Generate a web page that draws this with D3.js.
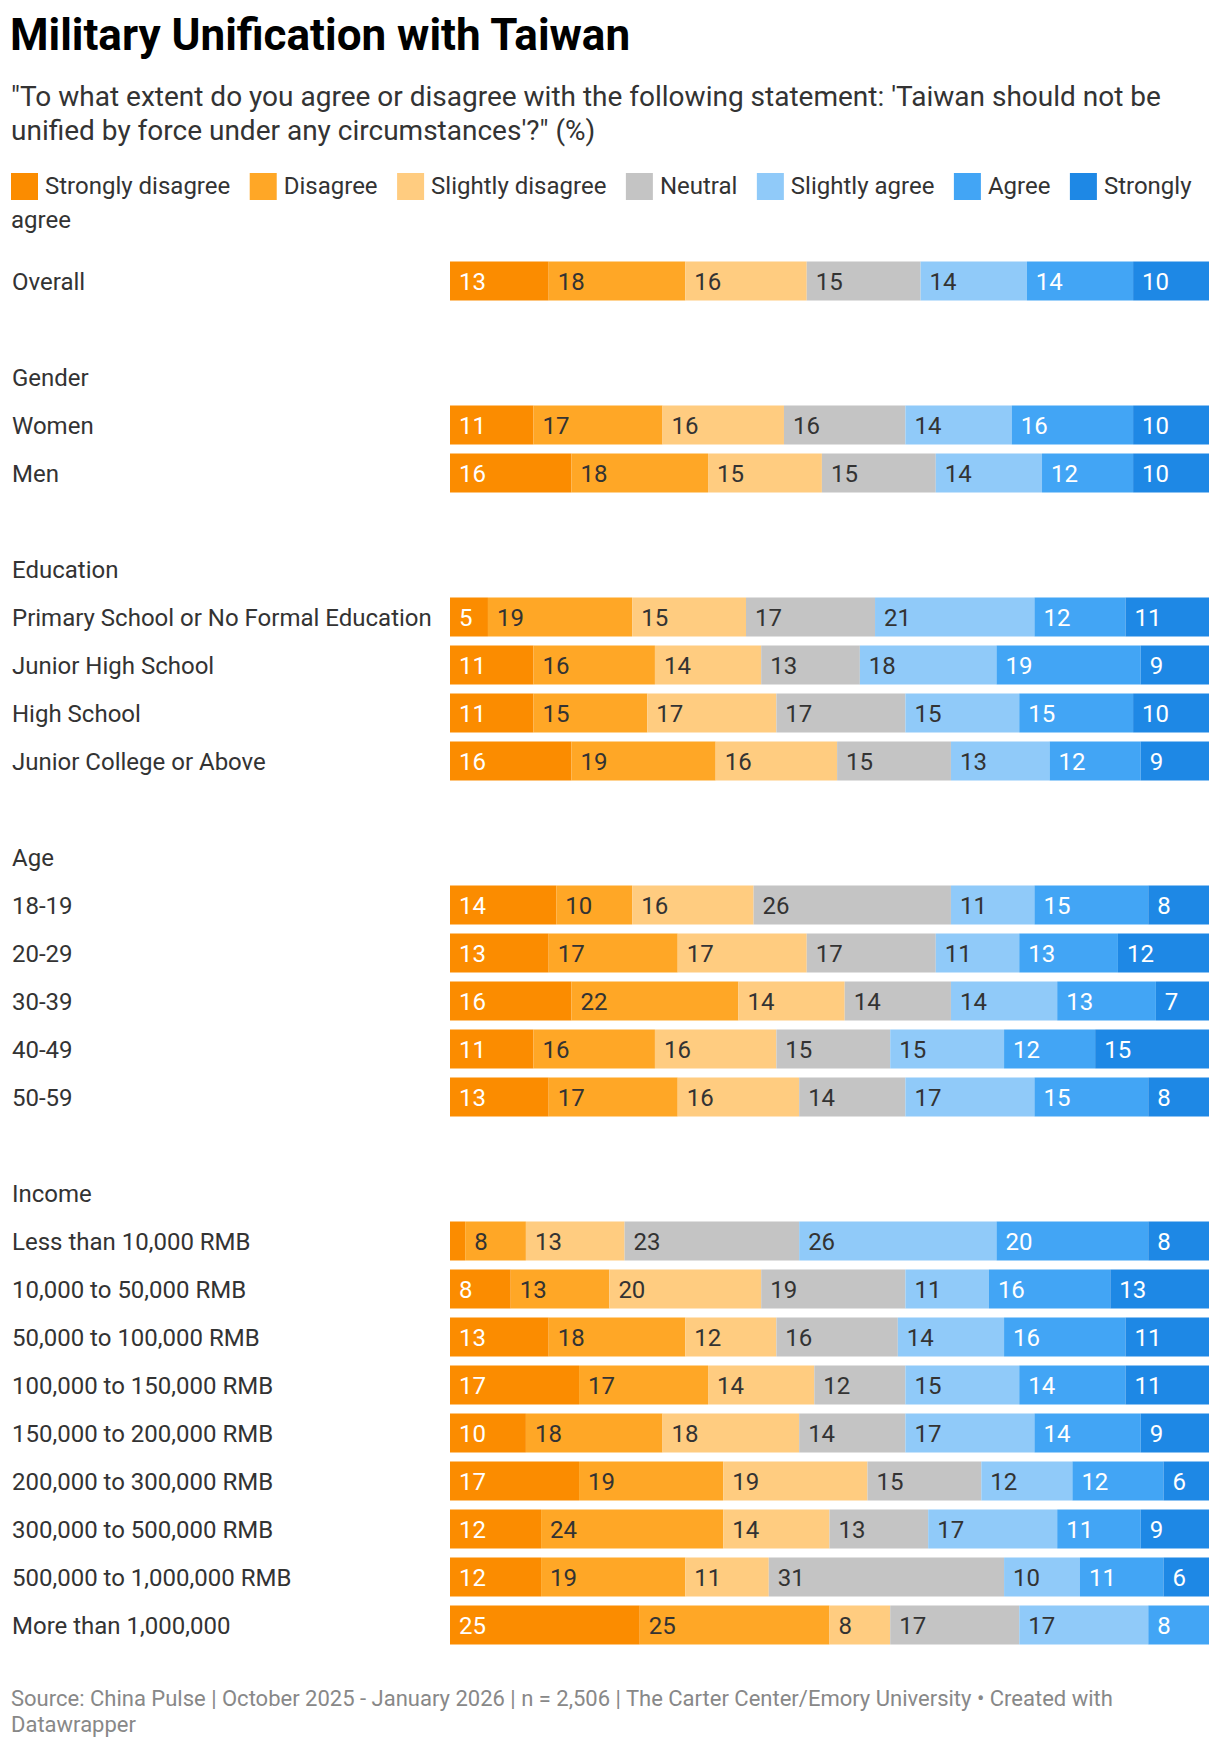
<!DOCTYPE html>
<html>
<head>
<meta charset="utf-8">
<script src="https://cdn.jsdelivr.net/npm/d3@7"></script>
<style>
  html, body { margin: 0; padding: 0; background: #fff; }
  svg text { font-family: Roboto, "Noto Sans", sans-serif; }
</style>
</head>
<body>
<svg id="chart" width="1220" height="1750"></svg>
<script>
// ---------- DATA ----------
const seriesNames = ["Strongly disagree", "Disagree", "Slightly disagree", "Neutral", "Slightly agree", "Agree", "Strongly agree"];
const seriesColors = ["#fb8c00", "#ffa726", "#ffcc80", "#c4c4c4", "#90caf9", "#42a5f5", "#1e88e5"];
const labelColors = ["#ffffff", "#333333", "#333333", "#333333", "#333333", "#ffffff", "#ffffff"];

const categories = [
  "Overall",
  "Women", "Men",
  "Primary School or No Formal Education", "Junior High School", "High School", "Junior College or Above",
  "18-19", "20-29", "30-39", "40-49", "50-59",
  "Less than 10,000 RMB", "10,000 to 50,000 RMB", "50,000 to 100,000 RMB", "100,000 to 150,000 RMB",
  "150,000 to 200,000 RMB", "200,000 to 300,000 RMB", "300,000 to 500,000 RMB", "500,000 to 1,000,000 RMB",
  "More than 1,000,000"
];
const categoryGroup = [
  "",
  "Gender", "Gender",
  "Education", "Education", "Education", "Education",
  "Age", "Age", "Age", "Age", "Age",
  "Income", "Income", "Income", "Income", "Income", "Income", "Income", "Income", "Income"
];
const stronglyDisagree = [13, 11, 16, 5, 11, 11, 16, 14, 13, 16, 11, 13, 2, 8, 13, 17, 10, 17, 12, 12, 25];
const disagree         = [18, 17, 18, 19, 16, 15, 19, 10, 17, 22, 16, 17, 8, 13, 18, 17, 18, 19, 24, 19, 25];
const slightlyDisagree = [16, 16, 15, 15, 14, 17, 16, 16, 17, 14, 16, 16, 13, 20, 12, 14, 18, 19, 14, 11, 8];
const neutral          = [15, 16, 15, 17, 13, 17, 15, 26, 17, 14, 15, 14, 23, 19, 16, 12, 14, 15, 13, 31, 17];
const slightlyAgree    = [14, 14, 14, 21, 18, 15, 13, 11, 11, 14, 15, 17, 26, 11, 14, 15, 17, 12, 17, 10, 17];
const agree            = [14, 16, 12, 12, 19, 15, 12, 15, 13, 13, 12, 15, 20, 16, 16, 14, 14, 12, 11, 11, 8];
const stronglyAgree    = [10, 10, 10, 11, 9, 10, 9, 8, 12, 7, 15, 8, 8, 13, 11, 11, 9, 6, 9, 6, 0];

const titleText = "Military Unification with Taiwan";
const subtitleLines = [
  "\"To what extent do you agree or disagree with the following statement: 'Taiwan should not be",
  "unified by force under any circumstances'?\" (%)"
];
const footerLines = [
  "Source: China Pulse | October 2025 - January 2026 | n = 2,506 | The Carter Center/Emory University \u2022 Created with",
  "Datawrapper"
];

// ---------- BUILD ----------
const seriesValues = [stronglyDisagree, disagree, slightlyDisagree, neutral, slightlyAgree, agree, stronglyAgree];

// rows: header rows, blank spacer rows and category rows
const rows = [];
let prevGroup = null;
categories.forEach((c, i) => {
  const g = categoryGroup[i];
  if (g !== prevGroup) {
    if (prevGroup !== null) rows.push({ id: "gap" + rows.length, type: "gap" });
    if (g) rows.push({ id: "hdr-" + g, type: "header", label: g });
    prevGroup = g;
  }
  rows.push({ id: "cat-" + c, type: "bar", label: c, index: i });
});

const svg = d3.select("#chart");

const x = d3.scaleLinear().domain([0, 100]).range([450, 1209]);
const y = d3.scaleBand()
  .domain(rows.map(r => r.id))
  .range([257, 257 + rows.length * 48])
  .paddingInner(0.1875)
  .paddingOuter(0.09375);

// Title
svg.append("text")
  .attr("x", 10).attr("y", 50)
  .attr("font-size", 44).attr("font-weight", 700)
  .attr("fill", "#000")
  .text(titleText);

// Subtitle
svg.append("g").selectAll("text").data(subtitleLines).join("text")
  .attr("x", 11).attr("y", (d, i) => 106 + i * 33.5)
  .attr("font-size", 28).attr("fill", "#333")
  .text(d => d);

// Legend (flow layout with word wrapping)
const legend = svg.append("g");
const legendFont = 24, sq = 27, maxW = 1212;
let lx = 11, ly = 0;
const lineBase = [194, 228];
const measure = (t, fs) => {
  const tmp = svg.append("text").attr("font-size", fs).text(t);
  const w = tmp.node().getComputedTextLength();
  tmp.remove();
  return w;
};
const spaceW = measure("a a", legendFont) - measure("aa", legendFont);
seriesNames.forEach((name, i) => {
  legend.append("rect")
    .attr("x", lx).attr("y", lineBase[ly] - 21)
    .attr("width", sq).attr("height", sq)
    .attr("fill", seriesColors[i]);
  lx += sq + 7;
  const words = name.split(" ");
  let first = true;
  words.forEach(w => {
    const ww = measure(w, legendFont);
    const need = (first ? 0 : spaceW) + ww;
    if (!first && lx + need > maxW) { ly += 1; lx = 11; }
    else if (!first) lx += spaceW;
    legend.append("text")
      .attr("x", lx).attr("y", lineBase[ly])
      .attr("font-size", legendFont).attr("fill", "#333")
      .text(w);
    lx += ww;
    first = false;
  });
  lx += 19.5;
});

// Row labels
const labelG = svg.append("g");
labelG.selectAll("text").data(rows.filter(r => r.type !== "gap")).join("text")
  .attr("x", 12)
  .attr("y", r => y(r.id) + y.bandwidth() / 2)
  .attr("dy", "0.38em")
  .attr("font-size", 24)
  .attr("fill", "#333")
  .text(r => r.label);

// Stacked bars
const stackData = categories.map((c, i) => {
  const o = { id: "cat-" + c };
  seriesNames.forEach((s, k) => { o[s] = seriesValues[k][i]; });
  return o;
});
const stacked = d3.stack().keys(seriesNames)(stackData);

const barsG = svg.append("g");
stacked.forEach((layer, k) => {
  const g = barsG.append("g").attr("fill", seriesColors[k]);
  g.selectAll("rect").data(layer.filter(d => d[1] - d[0] > 0)).join("rect")
    .attr("x", d => x(d[0]))
    .attr("y", d => y(d.data.id))
    .attr("width", d => x(d[1]) - x(d[0]))
    .attr("height", y.bandwidth());
});

// Value labels
const valG = svg.append("g");
stacked.forEach((layer, k) => {
  layer.forEach(d => {
    const v = d[1] - d[0];
    if (v <= 0) return;
    const w = x(d[1]) - x(d[0]);
    const t = valG.append("text")
      .attr("x", x(d[0]) + 9)
      .attr("y", y(d.data.id) + y.bandwidth() / 2)
      .attr("dy", "0.38em")
      .attr("font-size", 24)
      .attr("fill", labelColors[k])
      .text(v);
    if (t.node().getComputedTextLength() + 14 > w) t.remove();
  });
});

// Footer
svg.append("g").selectAll("text").data(footerLines).join("text")
  .attr("x", 11).attr("y", (d, i) => 1706 + i * 26)
  .attr("font-size", 22).attr("fill", "#888")
  .text(d => d);
</script>
</body>
</html>
